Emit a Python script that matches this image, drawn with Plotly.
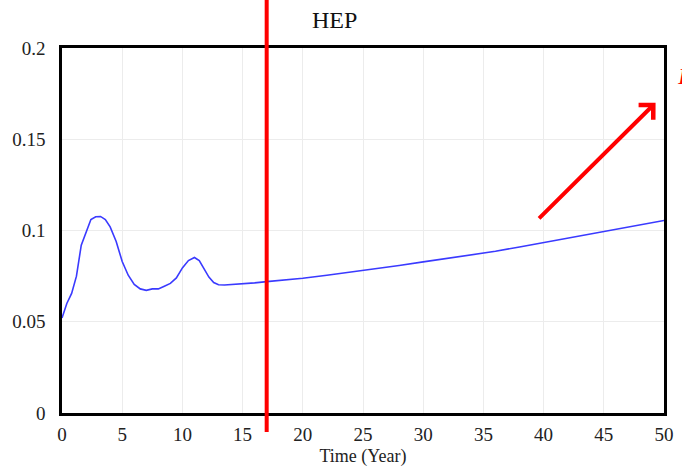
import plotly.graph_objects as go

# Time (Year)
time_years = [0, 0.4, 0.8, 1.2, 1.6, 2.0, 2.4, 2.8, 3.2, 3.6, 4.0, 4.5, 5.0, 5.5,
              6.0, 6.5, 7.0, 7.5, 8.0, 8.5, 9.0, 9.5, 10.0, 10.5, 11.0, 11.4,
              11.8, 12.2, 12.6, 13.0, 13.5, 14, 15, 16, 17, 18, 19, 20, 22, 24,
              25, 26, 28, 30, 32, 34, 35, 36, 38, 40, 42, 44, 45, 46, 48, 50]
# HEP values
hep_values = [0.052, 0.060, 0.0655, 0.075, 0.092, 0.099, 0.106, 0.1075, 0.1077,
              0.106, 0.102, 0.094, 0.083, 0.0755, 0.0705, 0.068, 0.0672, 0.068,
              0.068, 0.0695, 0.071, 0.074, 0.0795, 0.0835, 0.0852, 0.0835, 0.079,
              0.0745, 0.0715, 0.0703, 0.0701, 0.0703, 0.0708, 0.0713, 0.072,
              0.0726, 0.0732, 0.0738, 0.0755, 0.0772, 0.078, 0.0789, 0.0808, 0.0828,
              0.0846, 0.0865, 0.0875, 0.0886, 0.091, 0.0934, 0.0957, 0.0981,
              0.0993, 0.1005, 0.103, 0.1055]

x_ticks = [0, 5, 10, 15, 20, 25, 30, 35, 40, 45, 50]
y_ticks = [0, 0.05, 0.1, 0.15, 0.2]
y_tick_labels = ["0", "0.05", "0.1", "0.15", "0.2"]

marker_time = 17
arrow_tail = (39.5, 0.1058)
arrow_head = (49.3, 0.170)

title_text = "HEP"
x_title = "Time (Year)"

serif = "Liberation Serif, Times New Roman, serif"

fig = go.Figure()
fig.add_trace(go.Scatter(x=time_years, y=hep_values, mode="lines",
                         line=dict(color="#3a3aff", width=1.6),
                         showlegend=False, hoverinfo="skip"))

fig.add_shape(type="line", xref="x", yref="paper",
              x0=marker_time, x1=marker_time, y0=-0.052, y1=1.14,
              line=dict(color="#ff0000", width=4), layer="above")

fig.add_annotation(x=arrow_head[0], y=arrow_head[1], ax=arrow_tail[0], ay=arrow_tail[1],
                   xref="x", yref="y", axref="x", ayref="y", text="",
                   showarrow=True, arrowhead=4, arrowsize=1, arrowwidth=4,
                   arrowcolor="#ff0000")

fig.add_annotation(x=0.452, y=1.077, xref="paper", yref="paper", text=title_text,
                   showarrow=False, yanchor="middle",
                   font=dict(family=serif, size=24, color="#111111"))

fig.add_annotation(x=1.018, y=0.923, xref="paper", yref="paper", text="Increase",
                   showarrow=False, xanchor="left", yanchor="middle",
                   font=dict(family=serif, size=24, color="#ff0000", style="italic"))

axis_common = dict(showline=True, linecolor="#000000", linewidth=2.5, mirror=True,
                   showgrid=True, gridcolor="#ececec", gridwidth=1, zeroline=False,
                   automargin=False,
                   ticks="", tickfont=dict(family=serif, size=19, color="#222222"))

fig.update_xaxes(range=[0, 50], tickvals=x_ticks, ticklabelstandoff=2,
                 title=dict(text=x_title, font=dict(family=serif, size=18, color="#222222"),
                            standoff=8),
                 **axis_common)
fig.update_yaxes(range=[0, 0.2], tickvals=y_ticks, ticktext=y_tick_labels,
                 ticklabelstandoff=10, **axis_common)

fig.update_layout(width=682, height=467,
                  margin=dict(l=62, r=18, t=48, b=54, autoexpand=False),
                  paper_bgcolor="white", plot_bgcolor="white")

fig.write_html("out.html", config={"displayModeBar": False},
               post_script="document.body.style.margin='0px';document.body.style.overflow='hidden';")
